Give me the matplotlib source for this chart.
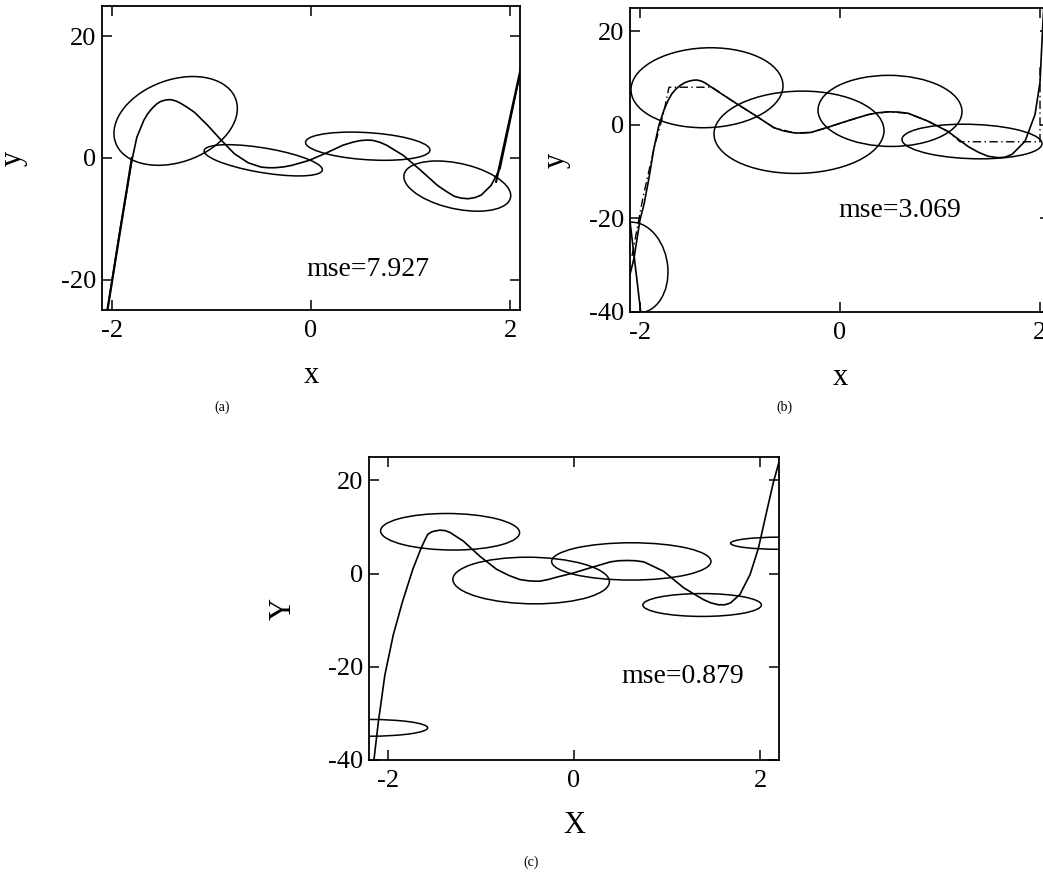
import numpy as np
import matplotlib
matplotlib.use("Agg")
import matplotlib.pyplot as plt
from matplotlib.patches import Ellipse

plt.rcParams["font.family"] = ["Liberation Serif", "DejaVu Serif"]
plt.rcParams["axes.unicode_minus"] = False

# ---- panel (a): target curve, fitted line ends, receptive-field ellipses ----
a_x = [-2.05, -1.92, -1.85, -1.80, -1.75, -1.68, -1.64, -1.60, -1.55, -1.51,
       -1.46, -1.41, -1.36, -1.31, -1.24, -1.17, -1.04, -0.90, -0.77, -0.63,
       -0.50, -0.43, -0.36, -0.27, -0.19, -0.02, 0.15, 0.32, 0.42, 0.49,
       0.56, 0.62, 0.69, 0.76, 0.93, 1.10, 1.27, 1.36, 1.44, 1.51, 1.58,
       1.65, 1.71, 1.81, 1.90, 1.98, 2.11]
a_y = [-25.5, -11.9, -5.3, -0.4, 3.4, 6.2, 7.3, 8.1, 8.9, 9.3,
       9.55, 9.6, 9.4, 9.0, 8.3, 7.5, 5.4, 2.9, 0.7, -0.8,
       -1.5, -1.6, -1.6, -1.45, -1.2, -0.4, 0.8, 2.1, 2.6, 2.85,
       2.95, 2.9, 2.6, 2.1, 0.4, -2.0, -4.5, -5.5, -6.3, -6.6, -6.7,
       -6.5, -6.1, -4.5, -1.7, 4.5, 14.6]
a_fit_x = [-2.06, -1.80, np.nan, 1.86, 2.11]
a_fit_y = [-26.5, 0.0, np.nan, -3.9, 14.9]
# centre x, centre y, spread x, spread y, correlation
a_ell_cx = [-1.36, -0.48, 0.57, 1.47]
a_ell_cy = [6.1, -0.38, 1.94, -4.62]
a_ell_sx = [0.62, 0.594, 0.625, 0.537]
a_ell_sy = [7.3, 2.57, 2.32, 4.13]
a_ell_r = [0.28, -0.6, -0.27, -0.38]

# ---- panel (b) ----
b_x = [-2.10, -2.06, -2.00, -1.96, -1.91, -1.86, -1.81, -1.76, -1.72, -1.68,
       -1.64, -1.60, -1.56, -1.52, -1.47, -1.43, -1.39, -1.35, -1.26, -1.16,
       -1.06, -0.86, -0.66, -0.56, -0.46, -0.38, -0.29, -0.12, 0.08, 0.28,
       0.38, 0.48, 0.58, 0.68, 0.88, 1.08, 1.28, 1.38, 1.48, 1.58, 1.65,
       1.72, 1.85, 1.95, 2.00, 2.03, 2.05]
b_y = [-32.0, -28.5, -20.3, -17.0, -11.3, -4.9, 0.0, 3.2, 5.2, 6.7,
       7.7, 8.4, 8.95, 9.3, 9.55, 9.6, 9.4, 9.0, 7.7, 6.3,
       4.9, 2.2, -0.6, -1.3, -1.7, -1.75, -1.6, -0.5, 0.9, 2.2,
       2.6, 2.8, 2.75, 2.5, 0.8, -1.4, -4.6, -5.8, -6.7, -7.0, -6.9,
       -6.3, -3.5, 2.2, 9.1, 22.3, 30.0]
b_edge_x = [-2.10, -1.99]
b_edge_y = [-20.6, -40.5]
b_fit_x = [-2.08, -1.97, -1.86, -1.76, -1.71, -1.28, -1.06, -0.86, -0.66,
           -0.46, -0.29, -0.12, 0.08, 0.28, 0.48, 0.68, 0.88, 1.08, 1.20,
           2.00, 2.00]
b_fit_y = [-28.0, -15.5, -5.0, 2.9, 8.06, 8.06, 4.9, 2.2, -0.6,
           -1.7, -1.6, -0.5, 0.9, 2.2, 2.8, 2.5, 0.8, -1.4, -3.6,
           -3.6, 13.0]
b_ell_cx = [-1.33, -0.41, 0.50, 1.32, -2.05]
b_ell_cy = [7.95, -1.57, 3.0, -3.55, -30.5]
b_ell_sx = [0.76, 0.85, 0.72, 0.70, 0.33]
b_ell_sy = [8.55, 8.8, 7.6, 3.7, 9.7]
b_ell_r = [0.05, 0.04, -0.02, -0.12, -0.1]

# ---- panel (c) ----
c_x = [-2.15, -2.10, -2.03, -1.94, -1.84, -1.73, -1.64, -1.60, -1.57, -1.53,
       -1.50, -1.44, -1.38, -1.33, -1.19, -1.01, -0.83, -0.70, -0.58, -0.47,
       -0.37, -0.28, -0.19, -0.01, 0.17, 0.39, 0.48, 0.57, 0.66, 0.75,
       0.96, 1.18, 1.39, 1.47, 1.55, 1.62, 1.68, 1.78, 1.89, 1.98, 2.07,
       2.14, 2.20]
c_y = [-40.5, -31.9, -21.8, -13.2, -6.0, 0.9, 5.5, 7.2, 8.4, 8.9,
       9.1, 9.3, 9.2, 8.8, 7.0, 3.7, 0.9, -0.4, -1.3, -1.6,
       -1.65, -1.3, -0.8, 0.1, 1.2, 2.5, 2.75, 2.8, 2.75, 2.5,
       0.5, -3.1, -5.6, -6.3, -6.7, -6.7, -6.3, -4.5, -0.2, 5.5, 13.5,
       19.6, 23.9]
c_ell_cx = [-1.33, -0.46, 0.615, 1.375, 2.2, -2.2]
c_ell_cy = [8.96, -1.5, 2.6, -6.75, 6.5, -33.1]
c_ell_sx = [0.746, 0.84, 0.855, 0.636, 0.52, 0.63]
c_ell_sy = [3.92, 5.0, 4.0, 2.45, 1.3, 1.8]
c_ell_r = [-0.05, -0.05, 0.0, 0.0, 0.0, 0.0]

mse_values = [7.927, 3.069, 0.879]

W, H = 1043, 875
fig = plt.figure(figsize=(W / 100, H / 100), dpi=100)


def px_axes(left, top, right, bottom):
    return fig.add_axes([left / W, 1 - bottom / H, (right - left) / W, (bottom - top) / H])


def draw_ellipses(ax, cx, cy, sx, sy, r):
    for x0, y0, s1, s2, rho in zip(cx, cy, sx, sy, r):
        cov = np.array([[s1 ** 2, rho * s1 * s2], [rho * s1 * s2, s2 ** 2]])
        vals, vecs = np.linalg.eigh(cov)
        ang = np.degrees(np.arctan2(vecs[1, 1], vecs[0, 1]))
        ax.add_patch(Ellipse((x0, y0), 2 * np.sqrt(vals[1]), 2 * np.sqrt(vals[0]),
                             angle=ang, fill=False, ec="black", lw=1.1))


def style(ax, xlim, ylim, yticks):
    ax.set_xlim(*xlim)
    ax.set_ylim(*ylim)
    ax.set_xticks([-2, 0, 2])
    ax.set_yticks(yticks)
    ax.tick_params(direction="in", top=True, right=True, length=7, width=1.1,
                   labelsize=19, pad=7)
    ax.tick_params(axis="y", pad=4)
    for sp in ax.spines.values():
        sp.set_linewidth(1.3)


# (a)
ax_a = px_axes(102, 6, 520, 310)
ax_a.plot(a_x, a_y, color="black", lw=1.2)
ax_a.plot(a_fit_x, a_fit_y, color="black", lw=1.6)
draw_ellipses(ax_a, a_ell_cx, a_ell_cy, a_ell_sx, a_ell_sy, a_ell_r)
style(ax_a, (-2.1, 2.1), (-25, 25), [-20, 0, 20])
ax_a.text(0.49, 0.112, f"mse={mse_values[0]:.3f}", transform=ax_a.transAxes,
          fontsize=20, va="baseline")
ax_a.set_xlabel("x", fontsize=22, labelpad=14)
ax_a.set_ylabel("y", fontsize=22, labelpad=24)

# (b)
ax_b = px_axes(630, 8, 1050, 312)
ax_b.plot(b_x, b_y, color="black", lw=1.2)
ax_b.plot(b_edge_x, b_edge_y, color="black", lw=1.2)
ax_b.plot(b_fit_x, b_fit_y, color="black", lw=1.0, ls=(0, (6, 2.5, 1, 2.5)))
draw_ellipses(ax_b, b_ell_cx, b_ell_cy, b_ell_sx, b_ell_sy, b_ell_r)
style(ax_b, (-2.1, 2.1), (-40, 25), [-40, -20, 0, 20])
ax_b.text(0.496, 0.313, f"mse={mse_values[1]:.3f}", transform=ax_b.transAxes,
          fontsize=20, va="baseline")
ax_b.set_xlabel("x", fontsize=22, labelpad=14)
ax_b.set_ylabel("y", fontsize=22, labelpad=13)

# (c)
ax_c = px_axes(369, 457, 779, 760)
ax_c.plot(c_x, c_y, color="black", lw=1.2)
draw_ellipses(ax_c, c_ell_cx, c_ell_cy, c_ell_sx, c_ell_sy, c_ell_r)
style(ax_c, (-2.2, 2.2), (-40, 25), [-40, -20, 0, 20])
ax_c.text(0.616, 0.253, f"mse={mse_values[2]:.3f}", transform=ax_c.transAxes,
          fontsize=20, va="baseline")
ax_c.set_xlabel("X", fontsize=22, labelpad=14)
ax_c.set_ylabel("Y", fontsize=22, labelpad=22)

for lab, (px, py) in zip(["(a)", "(b)", "(c)"], [(222, 407), (784, 407), (531, 862)]):
    fig.text(px / W, 1 - py / H, lab, fontsize=10, ha="center", va="center")

fig.savefig("out.png", dpi=100, facecolor="white")
